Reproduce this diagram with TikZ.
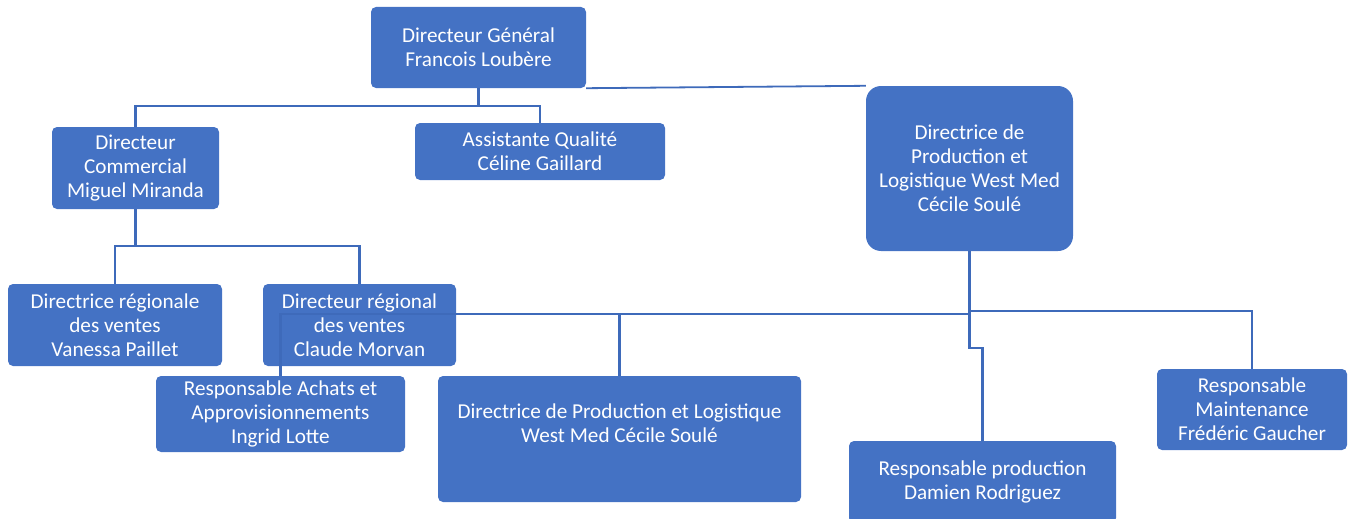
\documentclass[tikz,border=0pt]{standalone}
\usepackage{fontspec}
\setmainfont{Carlito}
\usepackage{tikz}
\usetikzlibrary{positioning,calc}
\usepackage{xcolor}
\definecolor{orgblue}{RGB}{68,114,196}
\definecolor{orgline}{RGB}{62,106,186}
\tikzstyle{box} = [fill=orgblue, rounded corners=5pt, text=white, align=center, inner sep=0pt, font=\fontsize{21.2}{24}\selectfont]
\tikzstyle{boxtext} = [text=white, align=center, inner sep=0pt, font=\fontsize{21.2}{24}\selectfont]
\tikzstyle{link} = [line width=2.2pt, color=orgline]

\begin{document}
\begin{tikzpicture}[x=1pt, y=-1pt]
    \clip (0,0) rectangle (1352,519);

    % Top level
    \node[box, minimum width=215pt, minimum height=81pt] (dg) at (478.5,47.5) {Directeur Général\\Francois Loubère};

    % Second level
    \node[box, minimum width=167pt, minimum height=82pt] (com) at (135.5,168) {Directeur\\Commercial\\Miguel Miranda};
    \node[box, minimum width=250pt, minimum height=57pt] (aq) at (540,151.5) {Assistante Qualité\\Céline Gaillard};
    \node[box, rounded corners=15pt, minimum width=207pt, minimum height=165pt] (dpl) at (969.5,168.5) {Directrice de\\Production et\\Logistique West Med\\Cécile Soulé};

    % Sales
    \node[box, minimum width=214pt, minimum height=82pt] (vp) at (115,325) {Directrice régionale\\des ventes\\Vanessa Paillet};
    \node[box, minimum width=193pt, minimum height=82pt] (cm) at (359.5,325) {Directeur régional\\des ventes\\Claude Morvan};

    % Production
    \node[box, minimum width=249pt, minimum height=76pt] (ach) at (280.5,414) {Responsable Achats et\\Approvisionnements\\Ingrid Lotte};
    \node[box, minimum width=363pt, minimum height=126pt] (dplb) at (619.5,439) {};
    \node[boxtext] (dplbtxt) at (619.5,423) {Directrice de Production et Logistique\\West Med Cécile Soulé};
    \node[box, minimum width=267pt, minimum height=82pt] (prod) at (982.5,482) {Responsable production\\Damien Rodriguez};
    \node[box, minimum width=190pt, minimum height=81pt] (maint) at (1252,409.5) {Responsable\\Maintenance\\Frédéric Gaucher};

    % Links
    \draw[link] (dg.south) -- ++(0,18) coordinate (dgj) -| (com.north);
    \draw[link] (dgj) -| (aq.north);
    \draw[link, line width=1.8pt] (dg.south east) -- (dpl.north west);
    \draw[link] (com.south) -- ++(0,37) coordinate (comj) -| (vp.north);
    \draw[link] (comj) -| (cm.north);
    \draw[link] (dpl.south) -- ++(0,60) coordinate (dplj) -| (maint.north);
    \draw[link] (dpl.south) -- ++(0,63) coordinate (dplk) -| (ach.north);
    \draw[link] (dplk) -| (dplb.north);
    \draw[link] (dplj) -- ++(0,37) -| (prod.north);
\end{tikzpicture}
\end{document}
